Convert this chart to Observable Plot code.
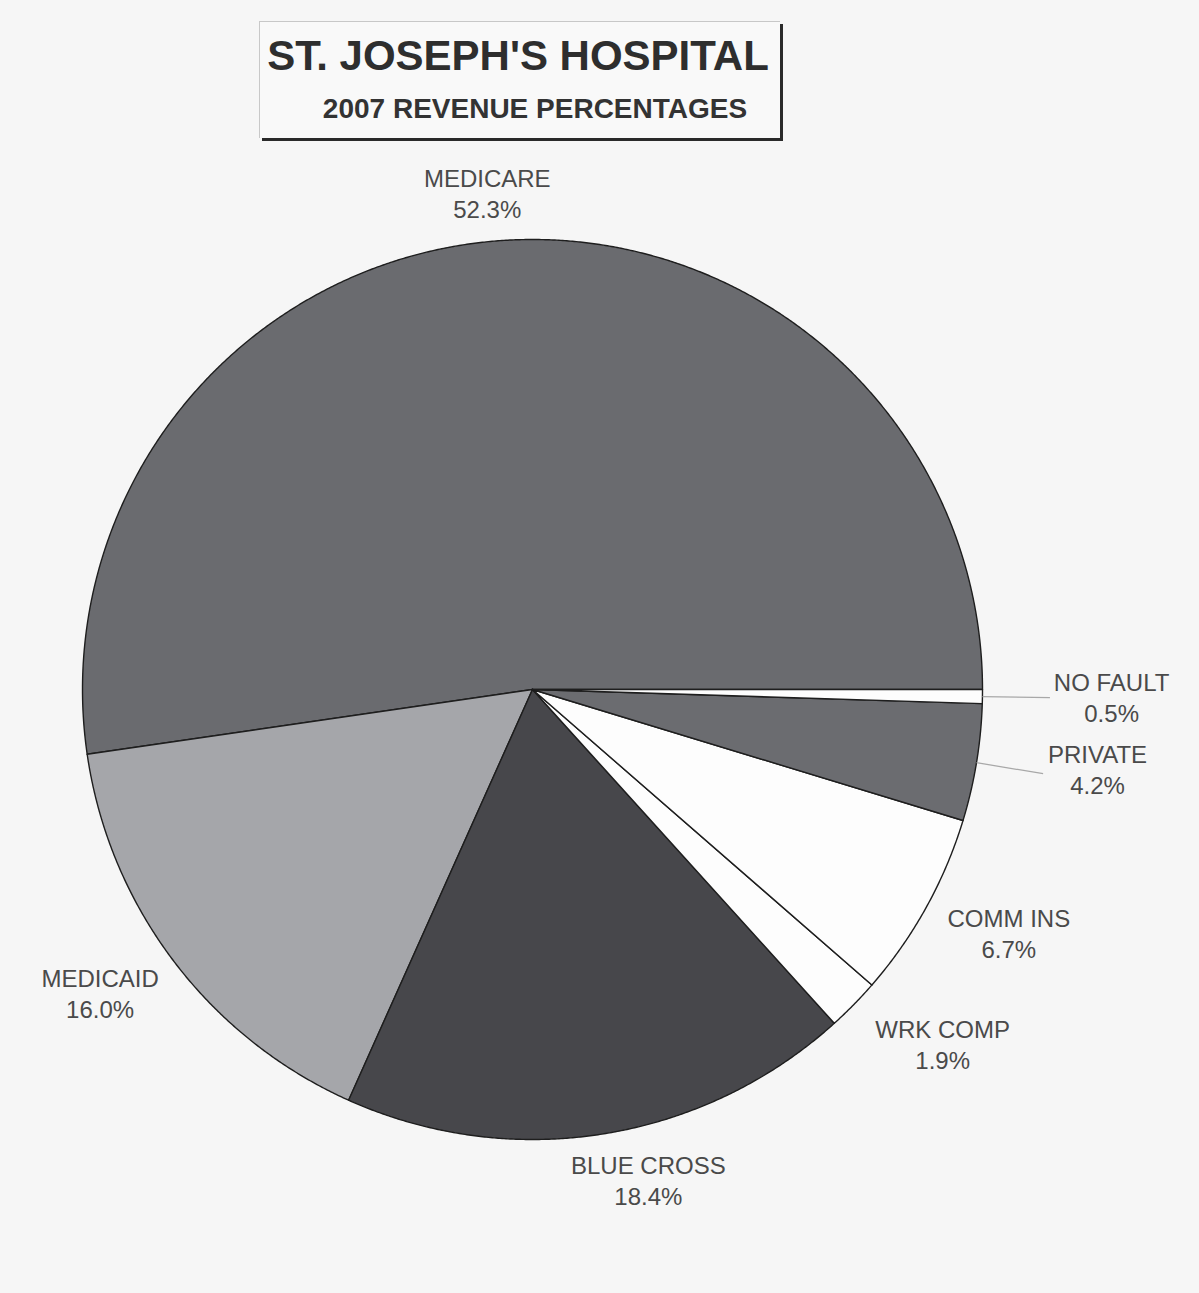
<!DOCTYPE html>
<html>
<head>
<meta charset="utf-8">
<script src="https://cdn.jsdelivr.net/npm/d3@7"></script>
<script src="https://cdn.jsdelivr.net/npm/@observablehq/plot@0.6"></script>
<style>
  html, body { margin: 0; padding: 0; background: #f6f6f6; }
  #wrap { position: relative; width: 1199px; height: 1293px; overflow: hidden; background: #f6f6f6; font-family: "Liberation Sans", Arial, sans-serif; }
  #header { position: relative; width: 1199px; height: 150px; }
  #titlebox { position: absolute; left: 259px; top: 21px; width: 520px; height: 116px;
    background: #f9f9f9; border-top: 1px solid #c8c8c8; border-left: 1px solid #c8c8c8;
    box-shadow: 3px 3px 0 #2a2a2a; }
  #title { position: absolute; left: -2px; top: 13px; width: 520px; text-align: center;
    font-size: 42px; line-height: 42px; font-weight: bold; color: #2e2e2e; letter-spacing: 0px; }
  #subtitle { position: absolute; left: 15px; top: 73px; width: 520px; text-align: center;
    font-size: 28px; line-height: 28px; font-weight: bold; color: #333; letter-spacing: 0px; }
  #chart svg { display: block; }
</style>
</head>
<body>
<div id="wrap">
  <div id="header">
    <div id="titlebox">
      <div id="title"></div>
      <div id="subtitle"></div>
    </div>
  </div>
  <div id="chart"></div>
</div>
<script>
// ---- data ----
const titleText = "ST. JOSEPH'S HOSPITAL";
const subtitleText = "2007 REVENUE PERCENTAGES";
const categories = ["MEDICARE", "MEDICAID", "BLUE CROSS", "WRK COMP", "COMM INS", "PRIVATE", "NO FAULT"];
const percentages = [52.3, 16.0, 18.4, 1.9, 6.7, 4.2, 0.5];
const percentLabels = ["52.3%", "16.0%", "18.4%", "1.9%", "6.7%", "4.2%", "0.5%"];
const leaderCategories = ["NO FAULT", "PRIVATE"];

// ---- style / layout ----
const sliceColors = ["#6a6b6f", "#a5a6aa", "#47474b", "#fdfdfd", "#fdfdfd", "#6b6c70", "#fdfdfd"];
// label placement: radius (in pie radii) and angle shift (deg) from slice mid-angle
const labelRadius = [1.109, 1.173, 1.119, 1.204, 1.188, 1.268, 1.287];
const labelShift = [1.06, -2.08, 4.3, 3.66, 1.98, 1.36, 0.2];

document.getElementById("title").textContent = titleText;
document.getElementById("subtitle").textContent = subtitleText;

const W = 1199, H = 1143, R = 450, CX = 532, CY = 539;
const total = d3.sum(percentages);

// slices counter-clockwise from east (y up)
let cum = 0;
const slices = categories.map((name, i) => {
  const a0 = cum / total * 360;
  cum += percentages[i];
  const a1 = cum / total * 360;
  return {name, a0, a1, mid: (a0 + a1) / 2, i};
});

const rad = d => d * Math.PI / 180;
const polyPts = [];
for (const s of slices) {
  polyPts.push({name: s.name, x: 0, y: 0});
  const n = Math.max(2, Math.ceil((s.a1 - s.a0) / 0.25));
  for (let k = 0; k <= n; k++) {
    const a = rad(s.a0 + (s.a1 - s.a0) * k / n);
    polyPts.push({name: s.name, x: Math.cos(a), y: Math.sin(a)});
  }
  polyPts.push({name: s.name, x: 0, y: 0});
}

const labels = slices.map(s => {
  const a = rad(s.mid + labelShift[s.i]);
  const r = labelRadius[s.i];
  return {x: r * Math.cos(a), y: r * Math.sin(a), text: s.name + "\n" + percentLabels[s.i]};
});

const leaders = slices.filter(s => leaderCategories.includes(s.name)).map(s => {
  const a = rad(s.mid);
  return {x1: 1.0 * Math.cos(a), y1: 1.0 * Math.sin(a), x2: 1.15 * Math.cos(a), y2: 1.15 * Math.sin(a)};
});

const chart = Plot.plot({
  width: W, height: H,
  margin: 0,
  style: {background: "transparent"},
  x: {domain: [-CX / R, (W - CX) / R], axis: null},
  y: {domain: [-(H - CY) / R, CY / R], axis: null},
  color: {domain: categories, range: sliceColors},
  marks: [
    Plot.line(polyPts, {x: "x", y: "y", z: "name", fill: "name", stroke: "#1e1e1e", strokeWidth: 1.4, strokeLinejoin: "round"}),
    Plot.link(leaders, {x1: "x1", y1: "y1", x2: "x2", y2: "y2", stroke: "#a8a8a8", strokeWidth: 1.2}),
    Plot.text(labels, {x: "x", y: "y", text: "text", fontSize: 24, lineHeight: 1.29, fill: "#4a4a4a",
      fontFamily: "Liberation Sans, Arial, sans-serif", textAnchor: "middle"})
  ]
});
document.getElementById("chart").appendChild(chart);
</script>
</body>
</html>
